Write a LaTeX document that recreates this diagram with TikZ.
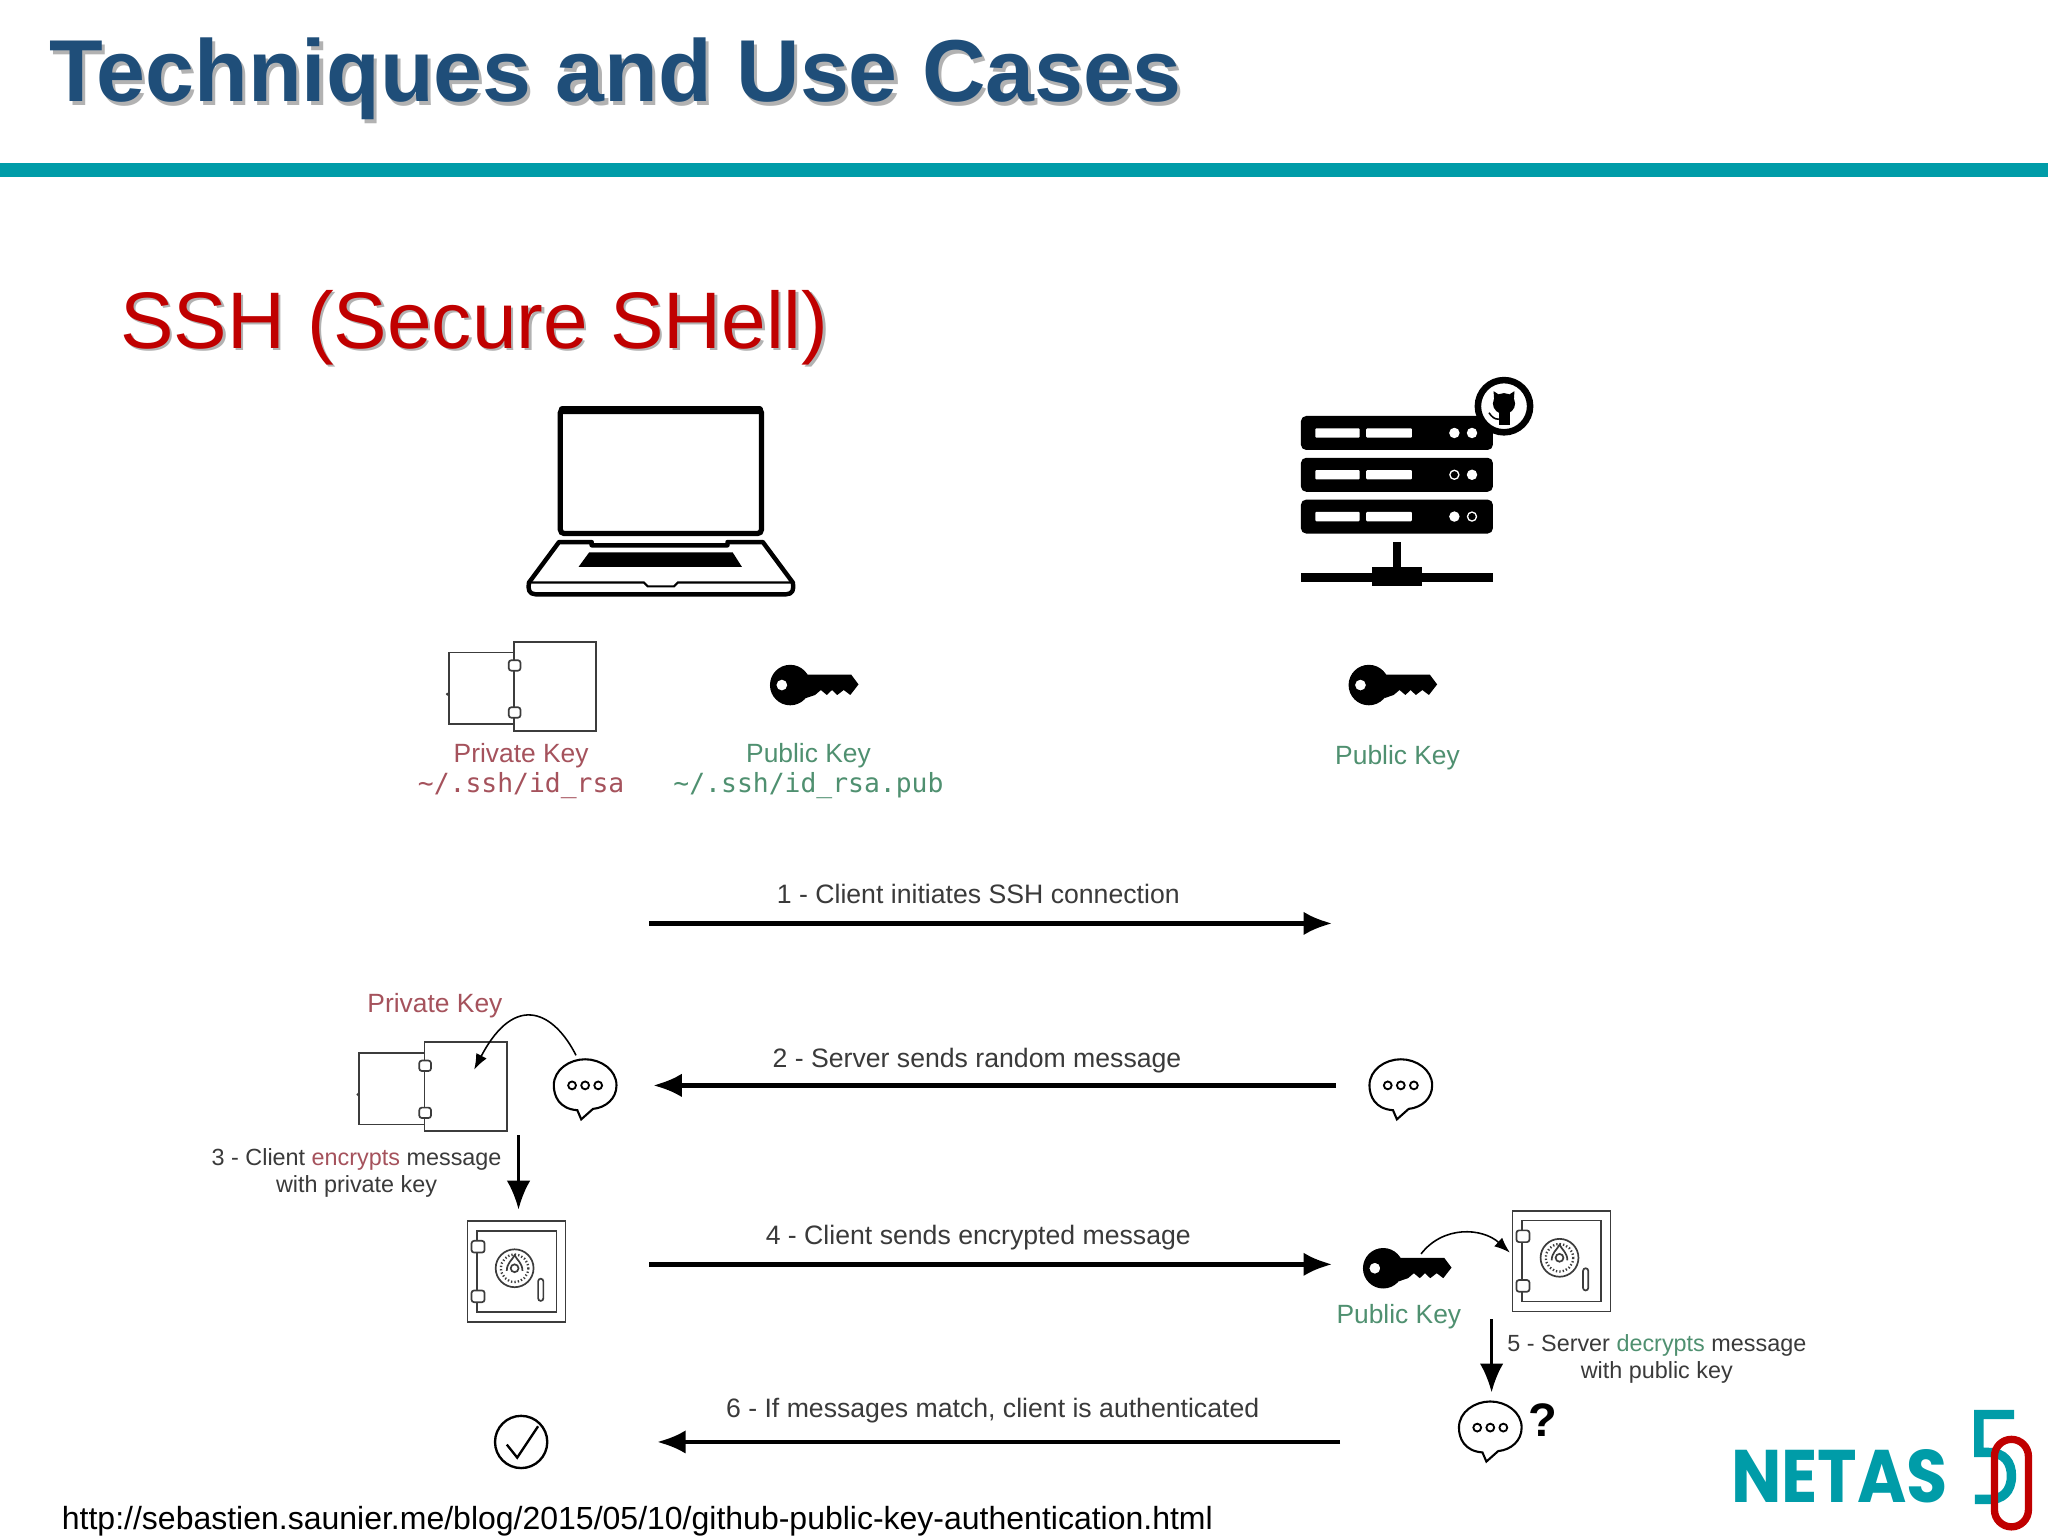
\documentclass[tikz,border=0pt]{standalone}
\usepackage{fontspec}
\setmainfont{Liberation Sans}
\newfontfamily\monofont{DejaVu Sans Mono}
\newfontfamily\logofont{Poppins}
\usetikzlibrary{arrows.meta}
\definecolor{titleblue}{HTML}{1F4E79}
\definecolor{barteal}{HTML}{009CA8}
\definecolor{subred}{HTML}{C00000}
\definecolor{keyred}{HTML}{A5525C}
\definecolor{keygreen}{HTML}{4F9070}
\definecolor{labelgray}{HTML}{3A3A3A}
\definecolor{iconline}{HTML}{3C3C3C}
\tikzset{
  steplabel/.style={anchor=base,text=labelgray,font=\fontsize{10.2}{12}\selectfont,align=center,inner sep=0pt},
  sidelabel/.style={text=labelgray,align=center,inner sep=0pt},
  privlabel/.style={anchor=base,text=keyred,font=\fontsize{10.1}{12}\selectfont,inner sep=0pt},
  publabel/.style={anchor=base,text=keygreen,font=\fontsize{10.1}{12}\selectfont,inner sep=0pt},
  msgarrow/.style={->,line width=1.7pt},
  downarrow/.style={->,line width=1.25pt},
  bendarrow/.style={->,line width=0.6pt,>={Latex[length=6pt,width=4.5pt]}},
  thinline/.style={draw=iconline,line width=0.65pt},
  pics/keyicon/.style={code={
    \fill[black,even odd rule] (0,0) circle (15.5) (-6.4,0) circle (4.2);
    \fill[black] (10,-8) -- (46.7,-8) -- (52.3,-0.5) -- (46,7.6) -- (41,3.8) -- (36,7.6) -- (32,3.8) -- (28,7.6) -- (23.5,3.8) -- (19,7.6) -- (12,10) -- cycle;
  }},
  pics/opensafe/.style={code={
    \draw[thinline] (0,0) rectangle (63,68);
    \draw[thinline,fill=white] (-50,8) rectangle (0,63);
    \draw[thinline,fill=white,rounded corners=1pt] (-4,14) rectangle (5,22);
    \draw[thinline,fill=white,rounded corners=1pt] (-4,50) rectangle (5,58);
    \fill[iconline] (-51,40) circle (1.2);
  }},
  pics/safeicon/.style={code={
    \draw[thinline] (0,0) rectangle (75,77);
    \draw[thinline] (7,7.5) rectangle (68,69.5);
    \draw[thinline,fill=white,rounded corners=1pt] (3,15) rectangle (13,24);
    \draw[thinline,fill=white,rounded corners=1pt] (3,53) rectangle (13,62);
    \draw[thinline] (36,36) circle (14.5);
    \draw[iconline,line width=0.9pt,dash pattern=on 0.5pt off 0.8pt] (36,36) circle (10.5);
    \draw[thinline] (36,36) circle (3);
    \draw[thinline] (30,38) .. controls (30,32) and (34,30) .. (36,26) .. controls (38,30) and (42,32) .. (42,38);
    \draw[thinline,fill=white,rounded corners=1pt] (54,44) rectangle (58,61);
  }},
  pics/bubble/.style={code={
    \draw[line width=0.8pt,fill=white] (-6,19) .. controls (-20,18) and (-24,8) .. (-24,0) .. controls (-24,-12) and (-12,-20) .. (0,-20) .. controls (12,-20) and (24,-12) .. (24,0) .. controls (24,10) and (16,17) .. (6,18) -- (-3,26) -- cycle;
    \foreach \dx in {-10,0,10} {
      \draw[line width=0.7pt] (\dx,0) circle (3);
    }
  }},
  pics/serverrack/.style n args={2}{code={
    \fill[black,rounded corners=2pt] (0,0) rectangle (147,26);
    \fill[white,rounded corners=0.4pt] (11,9.4) rectangle (45,16.6);
    \fill[white,rounded corners=0.4pt] (50,9.4) rectangle (85,16.6);
    \fill[white] (117.5,13) circle (4);
    \fill[white] (131,13) circle (4);
    \fill[#1] (117.5,13) circle (2.8);
    \fill[#2] (131,13) circle (2.8);
  }},
}
\begin{document}
\begin{tikzpicture}[x=0.5pt,y=-0.5pt,>={Latex[length=11pt,width=9pt]}]
  \useasboundingbox (0,0) rectangle (1568,1176);
  \fill[white] (0,0) rectangle (1568,1176);

  % title and bar
  \node[anchor=base west,inner sep=0pt,text=black!30,font=\bfseries\fontsize{33.65}{36}\selectfont] (titleshadow) at (40,80.5) {Techniques and Use Cases};
  \node[anchor=base west,inner sep=0pt,text=titleblue,font=\bfseries\fontsize{33.65}{36}\selectfont] (title) at (37.5,78) {Techniques and Use Cases};
  \fill[barteal] (0,125) rectangle (1568,135.5);
  \node[anchor=base west,inner sep=0pt,text=black!30,font=\fontsize{30.7}{36}\selectfont] (subshadow) at (93.5,268.5) {SSH (Secure SHell)};
  \node[anchor=base west,inner sep=0pt,text=subred,font=\fontsize{30.7}{36}\selectfont] (subtitle) at (91.5,266.5) {SSH (Secure SHell)};

  % laptop
  \draw[line width=2pt,rounded corners=1.5pt] (429,313) rectangle (583,408.5);
  \fill[black,rounded corners=1pt] (428,311) rectangle (584,317);
  \draw[line width=1.7pt,line join=round,fill=white] (428,415) -- (453,415) -- (453,417.5) -- (557,417.5) -- (557,415) -- (584,415) -- (607,446) .. controls (608,451) and (607,455) .. (602,455) -- (410,455) .. controls (405,455) and (404,451) .. (405,446) -- cycle;
  \draw[line width=0.8pt] (406,446) -- (493,446) -- (496,449) -- (516,449) -- (519,446) -- (606,446);
  \fill[black] (451,423) -- (561,423) -- (568,434) -- (443,434) -- cycle;

  % server
  \pic at (996,318.5) {serverrack={white}{white}};
  \pic at (996,350.5) {serverrack={black}{white}};
  \pic at (996,382.5) {serverrack={white}{black}};
  \fill[black] (1066.5,415) rectangle (1072.5,436);
  \fill[black] (996,438.8) rectangle (1143,445.5);
  \fill[black] (1050.5,434) rectangle (1088.5,449);
  \draw[line width=2.5pt,fill=white] (1151.5,311) circle (20);
  \fill[black] (1151.5,309) ellipse (8.5 and 8);
  \fill[black] (1143.5,299.5) -- (1149,303) -- (1144,307) -- cycle;
  \fill[black] (1159.5,299.5) -- (1154,303) -- (1159,307) -- cycle;
  \fill[black] (1147.5,315) rectangle (1156,325.5);
  \draw[line width=0.6pt] (1147.5,321) .. controls (1144,321) and (1142,319) .. (1140,316);

  % keys at the top
  \pic at (393.5,491.5) {opensafe};
  \pic at (605,524.5) {keyicon};
  \pic at (1048,524.5) {keyicon};
  \node[privlabel] (privkey) at (399,584) {Private Key};
  \node[privlabel,font=\monofont\fontsize{10.1}{12}\selectfont] (privpath) at (399,607) {\textasciitilde/.ssh/id\_rsa};
  \node[publabel] (pubkey) at (619,584) {Public Key};
  \node[publabel,font=\monofont\fontsize{10.1}{12}\selectfont] (pubpath) at (619,607) {\textasciitilde/.ssh/id\_rsa.pub};
  \node[publabel] (srvkey) at (1070,585.5) {Public Key};

  % step 1
  \coordinate (oneA) at (497,707);
  \coordinate (oneB) at (1020,707);
  \draw[msgarrow] (oneA) -- (oneB);
  \node[steplabel] (oneL) at (749,691.5) {1 - Client initiates SSH connection};

  % step 2
  \coordinate (twoA) at (1023,831);
  \coordinate (twoB) at (500,831);
  \draw[msgarrow] (twoA) -- (twoB);
  \node[steplabel] (twoL) at (748,817) {2 - Server sends random message};
  \pic at (1072.5,831) {bubble};
  \pic at (448,831) {bubble};
  \pic at (325,798) {opensafe};
  \node[privlabel] (privkeyB) at (333,775) {Private Key};
  \coordinate (bendA) at (441,808);
  \coordinate (bendB) at (363,819);
  \draw[bendarrow] (bendA) .. controls (425,776) and (395,758) .. (bendB);

  % step 3
  \coordinate (threeA) at (397,869);
  \coordinate (threeB) at (397,926);
  \draw[downarrow] (threeA) -- (threeB);
  \node[sidelabel,font=\fontsize{8.95}{10}\selectfont] (threeL) at (273,898) {3 - Client \textcolor{keyred}{encrypts} message\\with private key};
  \pic at (358,935) {safeicon};

  % step 4
  \coordinate (fourA) at (497,968);
  \coordinate (fourB) at (1020,968);
  \draw[msgarrow] (fourA) -- (fourB);
  \node[steplabel] (fourL) at (749,952.5) {4 - Client sends encrypted message};
  \pic at (1059,971) {keyicon};
  \node[publabel] (srvkeyB) at (1071,1013.5) {Public Key};
  \pic at (1158,927) {safeicon};
  \coordinate (bendC) at (1088,960);
  \coordinate (bendD) at (1156,959);
  \draw[bendarrow] (bendC) .. controls (1105,938) and (1135,940) .. (bendD);

  % step 5
  \coordinate (fiveA) at (1142,1010);
  \coordinate (fiveB) at (1142,1066);
  \draw[downarrow] (fiveA) -- (fiveB);
  \node[sidelabel,font=\fontsize{8.95}{10.5}\selectfont] (fiveL) at (1268.5,1040.5) {5 - Server \textcolor{keygreen}{decrypts} message\\with public key};
  \pic at (1141,1093) {bubble};
  \node[inner sep=0pt,font=\bfseries\fontsize{18}{20}\selectfont] (qmark) at (1181,1087) {?};

  % step 6
  \coordinate (sixA) at (1026,1104);
  \coordinate (sixB) at (503,1104);
  \draw[msgarrow] (sixA) -- (sixB);
  \node[steplabel] (sixL) at (760,1085) {6 - If messages match, client is authenticated};
  \draw[line width=0.9pt] (399,1104) circle (20);
  \draw[line width=0.9pt] (388,1106) -- (396,1116) -- (412,1092);

  % logo and link
  \node[anchor=base west,inner sep=0pt,text=barteal,xscale=0.9,transform shape,font=\logofont\bfseries\fontsize{28.5}{32}\selectfont] (logo) at (1325,1150) {NETAS};
  \draw[barteal,line width=3.6pt] (1542,1083) -- (1515,1083) -- (1515,1112) -- (1522,1112) .. controls (1535,1112) and (1540,1120) .. (1540,1130) .. controls (1540,1142) and (1533,1148) .. (1523,1148) -- (1512,1148);
  \draw[subred,line width=2.8pt,rounded corners=6.5pt] (1527,1102) rectangle (1553,1169);
  \node[anchor=base west,inner sep=0pt,font=\fontsize{12.25}{14}\selectfont] (link) at (47,1171) {http://sebastien.saunier.me/blog/2015/05/10/github-public-key-authentication.html};
\end{tikzpicture}
\end{document}
